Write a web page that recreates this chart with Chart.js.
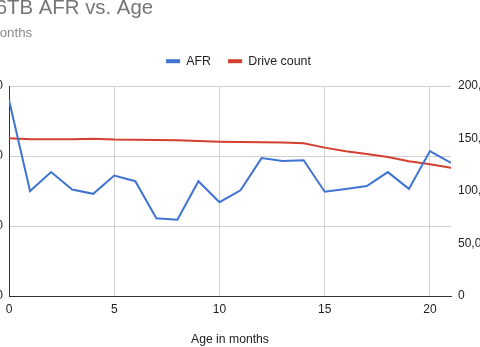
<!DOCTYPE html>
<html><head><meta charset="utf-8">
<script src="https://cdn.jsdelivr.net/npm/chart.js@4.4.1/dist/chart.umd.min.js"></script>
<style>
html,body{margin:0;padding:0;width:480px;height:347px;overflow:hidden;background:#fff}
#wrap{position:absolute;left:-86px;top:0;width:649px;height:347px}
</style></head>
<body><div id="wrap"><canvas id="c" width="649" height="347"></canvas></div>
<script>
const titleText = 'Seagate 6TB AFR vs. Age';
const subtitleText = 'Drive age in months';
const xTitle = 'Age in months';
const ages = [0,1,2,3,4,5,6,7,8,9,10,11,12,13,14,15,16,17,18,19,20,21];
const afr = [2.80,1.50,1.77,1.52,1.46,1.72,1.64,1.11,1.09,1.64,1.34,1.51,1.97,1.93,1.94,1.49,1.53,1.57,1.77,1.53,2.07,1.90];
const driveCount = [150200,149300,149300,149400,149700,149000,148900,148600,148300,147600,147000,146700,146500,146100,145400,141300,137800,135200,132400,128300,125400,122200];
const xTicks = [0,5,10,15,20];
const afrTicks = [0,1,2,3];
const countTicks = [0,50000,100000,150000,200000];

Chart.defaults.font.family = 'Arial, "Liberation Sans", sans-serif';
Chart.defaults.font.size = 12;
Chart.defaults.color = '#222';

const BLUE = '#3f74d3', RED = '#d3402f';

// keeps a little white space between the legend row and the plot
const legendGap = {
  id: 'legendGap',
  beforeLayout(chart) {
    const lg = chart.legend;
    if (lg && !lg.__gap) {
      const orig = lg.fit;
      lg.fit = function () { orig.call(this); if (this.isHorizontal()) this.height = 48; };
      lg.__gap = true;
    }
  }
};

new Chart(document.getElementById('c'), {
  type: 'line',
  plugins: [legendGap],
  data: {
    datasets: [
      { label: 'AFR', data: ages.map((a,i)=>({x:a,y:afr[i]})), borderColor: BLUE, backgroundColor: BLUE,
        borderWidth: 2, pointRadius: 0, tension: 0, yAxisID: 'y' },
      { label: 'Drive count', data: ages.map((a,i)=>({x:a,y:driveCount[i]})), borderColor: RED, backgroundColor: RED,
        borderWidth: 2, pointRadius: 0, tension: 0, yAxisID: 'y1' }
    ]
  },
  options: {
    responsive: false, animation: false, devicePixelRatio: 1,
    layout: { padding: 0 },
    plugins: {
      title: { display: true, text: titleText, align: 'start', color: '#757575',
        font: { size: 20.4, weight: 'normal', lineHeight: '16px' }, padding: 0 },
      subtitle: { display: true, text: subtitleText, align: 'start', color: '#8a8a8a',
        font: { size: 13.3, weight: 'normal', lineHeight: '5px' }, padding: { top: 15, bottom: 2 } },
      legend: { position: 'top', align: 'center',
        labels: { boxWidth: 14, boxHeight: 4, padding: 17, color: '#222', font: { size: 12.4 },
          generateLabels: (chart) => Chart.defaults.plugins.legend.labels.generateLabels(chart).map(l => Object.assign(l, { lineWidth: 0 })) } },
      tooltip: { enabled: false }
    },
    scales: {
      x: { type: 'linear', min: 0, max: 21,
        afterBuildTicks: s => { s.ticks = xTicks.map(v => ({ value: v })); },
        afterFit: s => { s.height = 51; },
        grid: { color: '#d0d0d0', drawTicks: false },
        border: { color: '#333', width: 1 },
        ticks: { padding: 6, color: '#222', font: { size: 12 } },
        title: { display: true, text: xTitle, color: '#222', font: { size: 12.2 }, padding: { top: 0, bottom: 0 } } },
      y: { position: 'left', min: 0, max: 3,
        afterBuildTicks: s => { s.ticks = afrTicks.map(v => ({ value: v })); },
        afterFit: s => { s.width = 95; },
        grid: { color: '#d0d0d0', drawTicks: false },
        border: { color: '#333', width: 1 },
        ticks: { padding: 6, color: '#222', font: { size: 12 }, callback: v => v.toFixed(2) } },
      y1: { position: 'right', min: 0, max: 200000,
        afterBuildTicks: s => { s.ticks = countTicks.map(v => ({ value: v })); },
        afterFit: s => { s.width = 112; },
        grid: { display: false, drawTicks: false },
        border: { display: false },
        ticks: { padding: 7, color: '#222', font: { size: 12 }, callback: v => v.toLocaleString('en-US') } }
    }
  }
});
</script>
</body></html>
